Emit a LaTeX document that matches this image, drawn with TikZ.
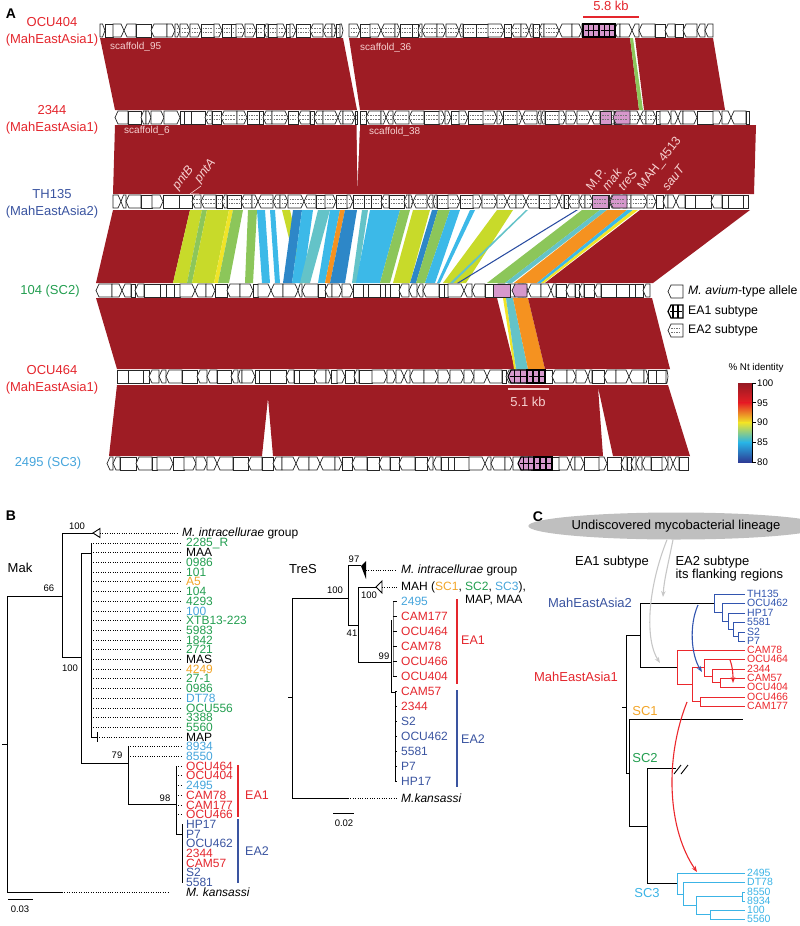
\documentclass[tikz,border=0pt]{standalone}
\usepackage{fontspec}
\setmainfont{Liberation Sans}
\usepackage{xcolor}
\definecolor{bandred}{RGB}{158,28,36}
\definecolor{eared}{RGB}{228,38,45}
\definecolor{eablue}{RGB}{58,84,160}
\definecolor{scgreen}{RGB}{35,158,80}
\definecolor{scblue}{RGB}{70,165,220}
\definecolor{scorange}{RGB}{242,165,40}
\definecolor{genepink}{RGB}{214,152,204}
\definecolor{bandtext}{RGB}{246,208,208}
\definecolor{sYG}{RGB}{200,218,42}
\definecolor{sGR}{RGB}{140,198,90}
\definecolor{sYE}{RGB}{240,228,40}
\definecolor{sLB}{RGB}{60,185,232}
\definecolor{sBL}{RGB}{45,135,200}
\definecolor{sTE}{RGB}{100,195,200}
\definecolor{sOR}{RGB}{245,146,32}
\definecolor{sDB}{RGB}{40,75,160}
\definecolor{cbA}{RGB}{150,25,35}
\definecolor{cbB}{RGB}{230,30,36}
\definecolor{cbC}{RGB}{245,140,30}
\definecolor{cbD}{RGB}{240,228,40}
\definecolor{cbE}{RGB}{130,200,120}
\definecolor{cbF}{RGB}{40,180,230}
\definecolor{cbG}{RGB}{45,60,150}
\definecolor{cblue}{RGB}{50,85,175}
\definecolor{cred}{RGB}{235,40,45}
\definecolor{ccyan}{RGB}{60,180,230}
\usepackage{tikz}
\usetikzlibrary{arrows.meta,shapes.geometric,positioning}
\tikzset{
  gene/.style={draw=black!85,fill=white,line width=0.7pt},
  hatch/.style={draw=black!55,line width=0.5pt,dash pattern=on 1.6pt off 1pt},
  eaone/.style={draw=black,fill=genepink,line width=1.1pt},
  eagrid/.style={draw=black,line width=1.1pt},
  eatwo/.style={draw=black!85,fill=genepink,line width=0.7pt},
  band/.style={fill=bandred},
  bandlbl/.style={text=bandtext,font=\fontsize{10}{11}\selectfont,anchor=west,inner sep=0pt},
  genelbl/.style={text=bandtext,font=\fontsize{12.5}{13}\selectfont,anchor=south west,rotate=52,inner sep=0pt},
  strain/.style={font=\fontsize{13}{17}\selectfont,align=center},
  panel/.style={font=\fontsize{14}{16}\selectfont\bfseries},
  br/.style={draw=black,line width=0.9pt},
  lead/.style={draw=black,line width=0.7pt,dash pattern=on 1pt off 1.4pt},
  leaf/.style={font=\fontsize{12}{12}\selectfont,anchor=west,inner xsep=4pt,inner ysep=0pt},
  boot/.style={font=\fontsize{9.5}{10}\selectfont,inner sep=1pt},
  barlbl/.style={font=\fontsize{12.5}{13}\selectfont},
  clbar/.style={line width=2.6pt},
  cleaf/.style={font=\fontsize{10.5}{10.5}\selectfont,anchor=west,inner xsep=2pt,inner ysep=0pt},
  cbr/.style={line width=0.9pt},
  curv/.style={-{Stealth[length=6pt,width=4.5pt]},line width=1.1pt},
  legtxt/.style={font=\fontsize{12.3}{13}\selectfont,anchor=west,inner sep=0pt},
}
% one gene arrow: x from, x to, top y, direction (0 right, 1 left, 2 box), style
\newcommand\genebody[5]{%
  \pgfmathsetmacro\gtp{min(3,(#2-#1)/2)}%
  \ifcase#4\relax
    \draw[#5] (#1,#3) -- (#2-\gtp,#3) -- (#2,#3+6.5) -- (#2-\gtp,#3+13) -- (#1,#3+13) -- cycle;
  \or
    \draw[#5] (#1+\gtp,#3) -- (#2,#3) -- (#2,#3+13) -- (#1+\gtp,#3+13) -- (#1,#3+6.5) -- cycle;
  \else
    \draw[#5] (#1,#3) rectangle (#2,#3+13);
  \fi}
% a run of genes: x from, x to, top y, seed, hatched from, hatched to
\newcommand\genetrack[6]{%
  \pgfmathsetseed{#4}%
  \def\gx{#1}\def\gxend{#2}\def\gyt{#3}\def\ghA{#5}\def\ghB{#6}%
  \genestep}
\newcommand\genestep{%
  \pgfmathrandominteger{\gw}{4}{16}%
  \pgfmathrandominteger{\gd}{0}{2}%
  \pgfmathsetmacro\gxe{min(\gx+\gw,\gxend)}%
  \genebody{\gx}{\gxe}{\gyt}{\gd}{gene}%
  \pgfmathtruncatemacro\ghok{(\gx>=\ghA)*(\gxe<=\ghB)}%
  \ifnum\ghok=1
    \draw[hatch] (\gx+1.5,\gyt+4.5) -- (\gxe-1.5,\gyt+4.5) (\gx+1.5,\gyt+8.5) -- (\gxe-1.5,\gyt+8.5);
  \fi
  \let\gx\gxe
  \pgfmathtruncatemacro\gmore{\gx<\gxend-1}%
  \ifnum\gmore=1 \expandafter\genestep\fi}
\newcommand\geneEAone[4]{%
  \genebody{#1}{#2}{#3}{#4}{eaone}%
  \draw[eagrid] (#1+1.5,#3+6.5) -- (#2-1.5,#3+6.5)
    ({(2*#1+#2)/3},#3) -- ++(0,13) ({(#1+2*#2)/3},#3) -- ++(0,13);}
\newcommand\geneEAtwo[4]{%
  \genebody{#1}{#2}{#3}{#4}{eatwo}%
  \draw[hatch] (#1+2,#3+4.5) -- (#2-2,#3+4.5) (#1+2,#3+8.5) -- (#2-2,#3+8.5);}

\begin{document}
\begin{tikzpicture}[x=1pt,y=-1pt]
  \useasboundingbox (0,0) rectangle (800,926);

  %% ---------------- panel A
  \node[panel] (pA) at (11,14) {A};
  % alignment bands
  \fill[band] (100,38) -- (343,38) -- (357,110) -- (115,110) -- cycle;
  \fill[band] (349,38) -- (630,38) -- (639,110) -- (360,110) -- cycle;
  \fill[sGR] (630,38) -- (633,38) -- (643,110) -- (639,110) -- cycle;
  \fill[band] (635,38) -- (713,38) -- (725,110) -- (644,110) -- cycle;
  \fill[band] (115,125) -- (756,125) -- (754,194) -- (113,194) -- cycle;
  \fill[white] (356.5,125) -- (360,125) -- (357.5,186) -- cycle;
  \fill[band] (113,210) -- (190,210) -- (173,283) -- (96,283) -- cycle;
  \foreach \ta/\tb/\ba/\bb/\c in {190/202/173/187/sYG, 202/207/187/192/sGR,
      207/229/192/214/sYG, 229/233/214/218/sYE, 233/243/218/229/sGR,
      248/257/245/253/sGR, 257/265/262/270/sLB, 270/275/275/280/sLB,
      282/290/300/306/sYG, 293/302/283/292/sBL, 302/313/292/303/sLB,
      318/330/300/310/sTE, 330/340/318/325/sLB, 340/345/325/330/sOR,
      345/357/330/345/sBL, 362/368/352/357/sTE, 370/400/356/380/sLB,
      400/410/380/390/sGR, 413/430/393/410/sYG, 432/438/410/416/sBL,
      438/450/416/425/sGR, 450/460/425/435/sLB, 470/475/437/440/sLB,
      497/513/443/466/sYG, 526/528/450/453/sTE, 576/578/457/459/sDB,
      582/600/487/505/sGR, 600/607/505/512/sTE, 607/627/514/537/sOR,
      627/633/537/541/sLB, 633/638/541/544/sYE}
    \fill[\c] (\ta,210) -- (\tb,210) -- (\bb,283) -- (\ba,283) -- cycle;
  \fill[band] (640,210) -- (750,210) -- (653,283) -- (545,283) -- cycle;
  \fill[band] (96,298) -- (497,298) -- (515,369) -- (117,369) -- cycle;
  \fill[sYE] (503,298) -- (506,298) -- (516,369) -- (514,369) -- cycle;
  \fill[sTE] (506,298) -- (513,298) -- (528,369) -- (516,369) -- cycle;
  \fill[sOR] (513,298) -- (528,298) -- (545,369) -- (528,369) -- cycle;
  \fill[band] (528,298) -- (652,298) -- (670,369) -- (545,369) -- cycle;
  \fill[band] (117,385) -- (668,385) -- (690,456) -- (613,456) -- (598,387)
    -- (603,456) -- (273,456) -- (268,398) -- (262,456) -- (109,456) -- cycle;

  % gene rows
  \genetrack{100}{343}{24}{11}{175}{343}
  \genetrack{349}{713}{24}{12}{349}{568}
  \geneEAone{583}{599}{24}{2}
  \geneEAone{599}{615}{24}{2}
  \genetrack{115}{357}{111}{21}{193}{357}
  \genetrack{360}{749}{111}{22}{360}{662}
  \geneEAtwo{600}{611}{111}{2}
  \geneEAtwo{613}{630}{111}{1}
  \genetrack{113}{748}{195}{31}{190}{660}
  \geneEAtwo{592}{608}{195}{2}
  \geneEAtwo{610}{627}{195}{1}
  \genetrack{96}{650}{284}{41}{0}{0}
  \genebody{493}{510}{284}{2}{eatwo}
  \genebody{512}{527}{284}{1}{eatwo}
  \genetrack{117}{668}{370}{51}{0}{0}
  \geneEAone{508}{527}{370}{1}
  \geneEAone{527}{545}{370}{2}
  \genetrack{107}{688}{457}{61}{0}{0}
  \geneEAone{518}{534}{457}{1}
  \geneEAone{534}{552}{457}{2}

  % strain names
  \node[strain,text=eared] (s1) at (52,32) {OCU404\\(MahEastAsia1)};
  \node[strain,text=eared] (s2) at (52,119.5) {2344\\(MahEastAsia1)};
  \node[strain,text=eablue] (s3) at (52,204) {TH135\\(MahEastAsia2)};
  \node[strain,text=scgreen] (s4) at (50,291) {104 (SC2)};
  \node[strain,text=eared] (s5) at (52,379.5) {OCU464\\(MahEastAsia1)};
  \node[strain,text=scblue] (s6) at (48,463) {2495 (SC3)};

  % texts on the bands
  \node[bandlbl] (sf95) at (110,47) {scaffold\_95};
  \node[bandlbl] (sf36) at (360,48) {scaffold\_36};
  \node[bandlbl] (sf6) at (124,131) {scaffold\_6};
  \node[bandlbl] (sf38) at (369,132) {scaffold\_38};
  \node[genelbl] (gpB) at (180,192) {\textit{pntB}};
  \node[genelbl] (gpA) at (202,185) {\textit{pntA}};
  \draw[bandtext,line width=0.6pt] (190,194) -- (201,186) (192,194) -- (199,194);
  \node[genelbl] (gMP) at (592,192) {M.P.};
  \node[genelbl] (gmak) at (608,192) {\textit{mak}};
  \node[genelbl] (gtre) at (624,192) {\textit{treS}};
  \node[genelbl] (gmah) at (645,192) {MAH\_4513};
  \node[genelbl] (gsau) at (668,192) {\textit{sauT}};

  % sizes of the islands
  \draw[eared,line width=1.2pt] (583,17) -- (639,17);
  \node[strain,text=eared] (kb58) at (611,6) {5.8 kb};
  \draw[bandtext,line width=1.2pt] (508,389) -- (549,389);
  \node[strain,text=bandtext] (kb51) at (528,402) {5.1 kb};

  % legend
  \genebody{668}{683}{285}{1}{gene}
  \genebody{668}{683}{305}{1}{{draw=black,fill=white,line width=1.2pt}}
  \draw[eagrid] (670,311.5) -- (682,311.5) (673,305) -- ++(0,13) (678,305) -- ++(0,13);
  \genebody{668}{683}{324}{1}{gene}
  \draw[hatch] (671,328.5) -- (681,328.5) (671,332.5) -- (681,332.5);
  \node[legtxt] (lg1) at (688,291) {\textit{M. avium}-type allele};
  \node[legtxt] (lg2) at (688,311) {EA1 subtype};
  \node[legtxt] (lg3) at (688,330) {EA2 subtype};

  % identity scale
  \node[font=\fontsize{9.8}{10}\selectfont] (nt) at (756,368) {\% Nt identity};
  \shade[top color=cbA,bottom color=cbB] (738,383) rectangle (752,402.75);
  \shade[top color=cbB,middle color=cbC,bottom color=cbD] (738,402.75) rectangle (752,422.5);
  \shade[top color=cbD,middle color=cbE,bottom color=cbF] (738,422.5) rectangle (752,442.25);
  \shade[top color=cbF,bottom color=cbG] (738,442.25) rectangle (752,462);
  \draw[line width=0.6pt] (752,383) -- (752,462);
  \foreach \v [count=\i from 0] in {100,95,90,85,80} {
    \draw[line width=0.6pt] (752,383+\i*19.75) -- (756,383+\i*19.75);
    \node[anchor=west,inner sep=1pt,font=\fontsize{9.6}{10}\selectfont] (cb\i) at (756,383+\i*19.75) {\v};
  }

  %% ---------------- panel B, Mak
  \node[panel] (pB) at (11,516) {B};
  \node[strain] (mak) at (20,568) {Mak};
  \draw[br] (7,596) -- (7,892.2);
  \draw[br] (2,744) -- (7,744);
  \draw[br] (7,596) -- (62,596);
  \draw[br] (62,533) -- (62,657);
  \draw[br] (62,533) -- (93,533);
  \draw[br,fill=white] (93,533) -- (100,528.5) -- (100,537.5) -- cycle;
  \node[leaf] (mki) at (178,533) {\textit{M. intracellurae} group};
  \draw[lead] (100,533) -- (mki.west);
  \draw[br] (62,657) -- (81,657);
  \draw[br] (81,553) -- (81,763);
  \draw[br] (81,553) -- (91,553);
  \draw[br] (91,543) -- (91,737);
  \foreach \t/\c [count=\i from 0] in {2285\_R/scgreen, MAA/black, 0986/scgreen,
      101/scgreen, A5/scorange, 104/scgreen, 4293/scgreen, 100/scblue,
      XTB13-223/scgreen, 5983/scgreen, 1842/scgreen, 2721/scgreen, MAS/black,
      4249/scorange, 27-1/scgreen, 0986/scgreen, DT78/scblue, OCU556/scgreen,
      3388/scgreen, 5560/scgreen} {
    \node[leaf,text=\c] (mk\i) at (182,543+\i*9.7) {\t};
    \draw[lead] (91,543+\i*9.7) -- (mk\i.west);
  }
  \node[leaf] (mkmap) at (182,737) {MAP};
  \draw[br] (91,737) -- (97,737);
  \draw[br] (97,732) -- (97,742);
  \draw[lead] (97,737) -- (mkmap.west);
  \draw[br] (81,763) -- (128,763);
  \draw[br] (128,746.7) -- (128,804);
  \foreach \t [count=\i from 0] in {8934,8550} {
    \node[leaf,text=scblue] (mkb\i) at (182,746.7+\i*9.7) {\t};
    \draw[lead] (128,746.7+\i*9.7) -- (mkb\i.west);
  }
  \draw[br] (128,804) -- (176,804);
  \draw[br] (176,766.1) -- (176,834);
  \foreach \t/\c [count=\i from 0] in {OCU464/eared, OCU404/eared, 2495/scblue,
      CAM78/eared, CAM177/eared, OCU466/eared} {
    \node[leaf,text=\c] (mke\i) at (182,766.1+\i*9.7) {\t};
    \draw[lead] (176,766.1+\i*9.7) -- (mke\i.west);
  }
  \draw[br] (176,834) -- (182,834);
  \draw[br] (182,824.3) -- (182,882.5);
  \foreach \t/\c [count=\i from 0] in {HP17/eablue, P7/eablue, OCU462/eablue,
      2344/eared, CAM57/eared, S2/eablue, 5581/eablue}
    \node[leaf,text=\c] (mkf\i) at (182,824.3+\i*9.7) {\t};
  \node[leaf] (mkk) at (182,892.2) {\textit{M. kansassi}};
  \draw[br] (7,892.2) -- (62,892.2);
  \draw[lead] (62,892.2) -- ([xshift=-14pt]mkk.west);
  \node[boot] (bm1) at (77,526) {100};
  \node[boot] (bm2) at (49,588) {66};
  \node[boot] (bm3) at (70,668) {100};
  \node[boot] (bm4) at (117,755) {79};
  \node[boot] (bm5) at (165,798) {98};
  \draw[br] (8,899) -- (33,899);
  \node[boot] (smk) at (20,909) {0.03};
  \draw[clbar,eared] (238,765) -- (238,817);
  \node[barlbl,text=eared] (mea1) at (257,795) {EA1};
  \draw[clbar,eablue] (238,819) -- (238,883);
  \node[barlbl,text=eablue] (mea2) at (257,851) {EA2};

  %% ---------------- panel B, TreS
  \node[strain] (tres) at (303,569) {TreS};
  \draw[br] (292,598) -- (292,798);
  \draw[br] (288,697) -- (292,697);
  \draw[br] (292,598) -- (348,598);
  \draw[br] (348,565) -- (348,625);
  \draw[br] (348,565) -- (361,565);
  \fill (361,566) -- (366,561) -- (366,579) -- cycle;
  \node[leaf] (tsi) at (397,570) {\textit{M. intracellurae} group};
  \draw[lead] (366,570) -- (tsi.west);
  \draw[br] (348,625) -- (358,625);
  \draw[br] (358,587) -- (358,662);
  \draw[br] (358,587) -- (376,587);
  \draw[br,fill=white] (376,587) -- (382,581) -- (382,593) -- cycle;
  \node[leaf] (tsm) at (397,587)
    {MAH (\textcolor{scorange}{SC1}, \textcolor{scgreen}{SC2}, \textcolor{scblue}{SC3}),};
  \draw[lead] (382,587) -- (tsm.west);
  \node[leaf] (tsa) at (461,600) {MAP, MAA};
  \draw[br] (358,662) -- (391,662);
  \draw[br] (391,620) -- (391,692);
  \draw[br,black!55] (393,601) -- (393,676);
  \draw[br] (391,692) -- (395,692);
  \draw[br] (395,692) -- (395,781);
  \foreach \t/\c [count=\i from 0] in {2495/scblue, CAM177/eared, OCU464/eared,
      CAM78/eared, OCU466/eared, OCU404/eared} {
    \node[leaf,text=\c] (tse\i) at (397,601+\i*15) {\t};
    \draw[br] (393,601+\i*15) -- (tse\i.west);
  }
  \foreach \t/\c [count=\i from 0] in {CAM57/eared, 2344/eared, S2/eablue,
      OCU462/eablue, 5581/eablue, P7/eablue, HP17/eablue} {
    \node[leaf,text=\c] (tsf\i) at (397,691+\i*15) {\t};
    \draw[br] (395,691+\i*15) -- (tsf\i.west);
  }
  \node[leaf] (tsk) at (397,798) {\textit{M.kansassi}};
  \draw[br] (292,798) -- (348,798);
  \draw[lead] (348,798) -- (tsk.west);
  \node[boot] (tb1) at (335,590) {100};
  \node[boot] (tb2) at (354,559) {97};
  \node[boot] (tb3) at (352,633) {41};
  \node[boot] (tb4) at (369,595) {100};
  \node[boot] (tb5) at (384,656) {99};
  \draw[br] (333,813) -- (354,813);
  \node[boot] (sts) at (344,823) {0.02};
  \draw[clbar,eared] (457,599) -- (457,684);
  \node[barlbl,text=eared] (tea1) at (473,640) {EA1};
  \draw[clbar,eablue] (457,690) -- (457,787);
  \node[barlbl,text=eablue] (tea2) at (473,739) {EA2};

  %% ---------------- panel C
  \node[panel] (pC) at (538,517) {C};
  \node[ellipse,fill=black!25,minimum width=222pt,minimum height=27pt,inner sep=0pt,
        font=\fontsize{13}{14}\selectfont] (lin) at (676,526)
    {Undiscovered mycobacterial lineage};
  \node[strain] (cea1) at (612,562) {EA1 subtype};
  \node[strain,align=left,anchor=west,font=\fontsize{13}{13}\selectfont] (cea2)
    at (672,568.5) {EA2 subtype\\its flanking regions};
  \node[strain,text=eablue] (cm2) at (590,603) {MahEastAsia2};
  \node[strain,text=eared] (cm1) at (576,677) {MahEastAsia1};
  \node[strain,text=scorange] (csc1) at (645,711) {SC1};
  \node[strain,text=scgreen] (csc2) at (645,758) {SC2};
  \node[strain,text=ccyan] (csc3) at (647,893) {SC3};
  % backbone
  \draw[cbr] (622,707) -- (626,707);
  \draw[cbr] (626,635) -- (626,773);
  \draw[cbr] (626,635) -- (640,635);
  \draw[cbr] (640,603) -- (640,667);
  \draw[cbr] (640,603) -- (714,603);
  \draw[cbr] (640,667) -- (677,667);
  \draw[cbr] (626,773) -- (629,773);
  \draw[cbr] (629,719) -- (629,826);
  \draw[cbr] (629,719) -- (743,719);
  \draw[cbr] (629,826) -- (647,826);
  \draw[cbr] (647,768) -- (647,883.5);
  \draw[cbr] (647,768) -- (676,768);
  \draw[cbr] (674,774) -- (681,765) (681,774) -- (688,765);
  \draw[cbr] (647,883.5) -- (677,883.5);
  % MahEastAsia2 clade
  \foreach \t/\y [count=\i] in {TH135/594, OCU462/603, HP17/613, 5581/622, S2/632, P7/641}
    \node[cleaf,text=cblue] (cb\i) at (745,\y) {\t};
  \draw[cbr,cblue] (714,594) -- (714,612) (722,603) -- (722,621) (728,613) -- (728,629)
    (733,622) -- (733,636.5) (738,632) -- (738,641);
  \draw[cbr,cblue] (714,594) -- (cb1.west) (714,612) -- (722,612) (722,603) -- (cb2.west)
    (722,621) -- (728,621) (728,613) -- (cb3.west) (728,629) -- (733,629)
    (733,622) -- (cb4.west) (733,636.5) -- (738,636.5) (738,632) -- (cb5.west)
    (738,641) -- (cb6.west);
  % MahEastAsia1 clade
  \foreach \t/\y [count=\i] in {CAM78/650, OCU464/659, 2344/669, CAM57/678, OCU404/687,
      OCU466/697, CAM177/706}
    \node[cleaf,text=cred] (cr\i) at (745,\y) {\t};
  \draw[cbr,cred] (677,650) -- (677,684.5) (692,667.5) -- (692,701.5) (704,659) -- (704,676)
    (712,669) -- (712,682.5) (720,678) -- (720,687) (700,697) -- (700,706);
  \draw[cbr,cred] (677,650) -- (cr1.west) (677,684.5) -- (692,684.5) (692,667.5) -- (704,667.5)
    (692,701.5) -- (700,701.5) (704,659) -- (cr2.west) (704,676) -- (712,676)
    (712,669) -- (cr3.west) (712,682.5) -- (720,682.5) (720,678) -- (cr4.west)
    (720,687) -- (cr5.west) (700,697) -- (cr6.west) (700,706) -- (cr7.west);
  % SC3 clade
  \foreach \t/\y [count=\i] in {2495/873, DT78/882, 8550/892, 8934/901, 100/910, 5560/919}
    \node[cleaf,text=ccyan] (cc\i) at (745,\y) {\t};
  \draw[cbr,ccyan] (677,873) -- (677,894) (683,882) -- (683,905.5) (696,896.5) -- (696,914.5)
    (742,892) -- (742,901) (710,910) -- (710,919);
  \draw[cbr,ccyan] (677,873) -- (cc1.west) (677,894) -- (683,894) (683,882) -- (cc2.west)
    (683,905.5) -- (696,905.5) (696,896.5) -- (742,896.5) (742,892) -- (cc3.west)
    (742,901) -- (cc4.west) (696,914.5) -- (710,914.5) (710,910) -- (cc5.west)
    (710,919) -- (cc6.west);
  % transfers
  \coordinate (gA) at (663,597);
  \coordinate (gB) at (660,663);
  \coordinate (bA0) at (698,605);
  \coordinate (bA1) at (702,672);
  \coordinate (rA0) at (730,660);
  \coordinate (rA1) at (733,683);
  \coordinate (rB0) at (687,702);
  \coordinate (rB1) at (697,872);
  \draw[curv,black!22] ([xshift=-3pt]lin.south) .. controls (668,565) and (664,580) .. (gA);
  \draw[curv,black!22] ([xshift=-9pt]lin.south) .. controls (647,590) and (645,640) .. (gB);
  \draw[curv,cblue] (bA0) .. controls (689,625) and (691,655) .. (bA1);
  \draw[curv,cred] (rA0) .. controls (733,668) and (733,676) .. (rA1);
  \draw[curv,cred] (rB0) .. controls (664,760) and (668,830) .. (rB1);
\end{tikzpicture}
\end{document}
